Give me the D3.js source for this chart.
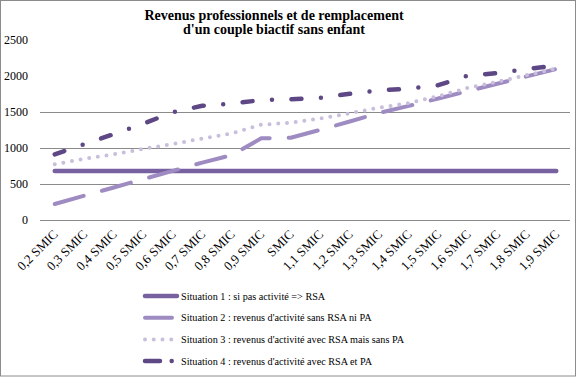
<!DOCTYPE html>
<html>
<head>
<meta charset="utf-8">
<script src="https://cdn.jsdelivr.net/npm/d3@7"></script>
<style>
  body { margin: 0; background: #fff; }
  svg { display: block; }
  text { font-family: "Liberation Serif", "DejaVu Serif", serif; }
</style>
</head>
<body>
<svg id="chart"></svg>
<script>
const categories = ['0,2 SMIC', '0,3 SMIC', '0,4 SMIC', '0,5 SMIC', '0,6 SMIC', '0,7 SMIC', '0,8 SMIC', '0,9 SMIC', 'SMIC',
  '1,1 SMIC', '1,2 SMIC', '1,3 SMIC', '1,4 SMIC', '1,5 SMIC', '1,6 SMIC', '1,7 SMIC', '1,8 SMIC', '1,9 SMIC']
const situation1 = [681, 681, 681, 681, 681, 681, 681, 681, 681, 681, 681, 681, 681, 681, 681, 681, 681, 681]
const situation2 = [222, 337, 452, 567, 682, 797, 900, 1134, 1143, 1253, 1368, 1487, 1585, 1687, 1790, 1892, 1995, 2097]
const situation3 = [773, 850, 913, 987, 1056, 1130, 1203, 1324, 1350, 1409, 1482, 1560, 1625, 1720, 1835, 1920, 2012, 2105]
const situation4 = [912, 1053, 1193, 1338, 1497, 1586, 1618, 1665, 1675, 1698, 1753, 1800, 1823, 1872, 2005, 2040, 2099, 2142]
const yTicks = [0, 500, 1000, 1500, 2000, 2500]
const gridTicks = [0, 500, 1000, 1500]
const legendLabels = [
  'Situation 1 : si pas activité => RSA',
  "Situation 2 : revenus d'activité sans RSA ni PA",
  "Situation 3 : revenus d'activité avec RSA mais sans PA",
  "Situation 4 : revenus d'activité avec RSA et PA"
]

const width = 577
const height = 377
const serif = '"Liberation Serif", "DejaVu Serif", serif'

const series = [
  { values: situation1, color: '#7761a0', w: 4.5, dash: null, legendDash: null },
  { values: situation2, color: '#9e8bc2', w: 4, dash: '30,19', legendDash: '27,20' },
  { values: situation3, color: '#c9bedb', w: 4, dash: '0,8.75', legendDash: '0,8.75' },
  { values: situation4, color: '#5e4785', w: 4.5, dash: '10,19.5,0,19.5', legendDash: '15,11.7,0,30' }
]

const svg = d3.select('#chart')
  .attr('width', width)
  .attr('height', height)
  .attr('font-family', serif)

svg.append('rect')
  .attr('x', 0.5).attr('y', 0.5)
  .attr('width', width - 2).attr('height', height - 1.5)
  .attr('fill', '#fff').attr('stroke', '#8c8c8c')

const x = d3.scaleBand().domain(categories).range([40, 571])
const y = d3.scaleLinear().domain([0, 2500]).range([220, 40])

// grid
svg.append('g')
  .selectAll('line')
  .data(gridTicks)
  .enter()
  .append('line')
  .attr('x1', 40).attr('x2', 570)
  .attr('y1', d => Math.round(y(d)) + 0.5)
  .attr('y2', d => Math.round(y(d)) + 0.5)
  .attr('stroke', '#8a8a8a')

// y labels
svg.append('g')
  .selectAll('text')
  .data(yTicks)
  .enter()
  .append('text')
  .attr('x', 28)
  .attr('y', d => y(d))
  .attr('dy', '0.35em')
  .attr('text-anchor', 'end')
  .attr('font-family', serif)
  .attr('font-size', 12)
  .text(d => d)

// x labels
svg.append('g')
  .selectAll('text')
  .data(categories)
  .enter()
  .append('text')
  .attr('text-anchor', 'end')
  .attr('font-family', serif)
  .attr('font-size', 13)
  .attr('transform', d => 'translate(' + (x(d) + x.bandwidth() / 2 + 4) + ',235) rotate(-45)')
  .text(d => d)

const line = d3.line()
  .x((d, i) => x(categories[i]) + x.bandwidth() / 2)
  .y(d => y(d))

svg.append('g')
  .selectAll('path')
  .data(series)
  .enter()
  .append('path')
  .attr('d', d => line(d.values))
  .attr('fill', 'none')
  .attr('stroke', d => d.color)
  .attr('stroke-width', d => d.w)
  .attr('stroke-linecap', 'round')
  .attr('stroke-linejoin', 'round')
  .attr('stroke-dasharray', d => d.dash)

// title
const title = svg.append('text')
  .attr('text-anchor', 'middle')
  .attr('font-family', serif)
  .attr('font-size', 14)
  .attr('font-weight', 'bold')
title.append('tspan').attr('x', 274).attr('y', 20).text('Revenus professionnels et de remplacement')
title.append('tspan').attr('x', 274).attr('y', 34).text("d'un couple biactif sans enfant")

// legend
const legend = svg.append('g')
  .selectAll('g')
  .data(series)
  .enter()
  .append('g')
  .attr('transform', (d, i) => 'translate(0,' + (296 + i * 21.7) + ')')

legend.append('line')
  .attr('x1', 145).attr('x2', 177)
  .attr('stroke', d => d.color)
  .attr('stroke-width', d => d.w)
  .attr('stroke-linecap', 'round')
  .attr('stroke-dasharray', d => d.legendDash)

legend.append('text')
  .attr('x', 181)
  .attr('dy', '0.35em')
  .attr('font-family', serif)
  .attr('font-size', 10.2)
  .text((d, i) => legendLabels[i])
</script>
</body>
</html>
